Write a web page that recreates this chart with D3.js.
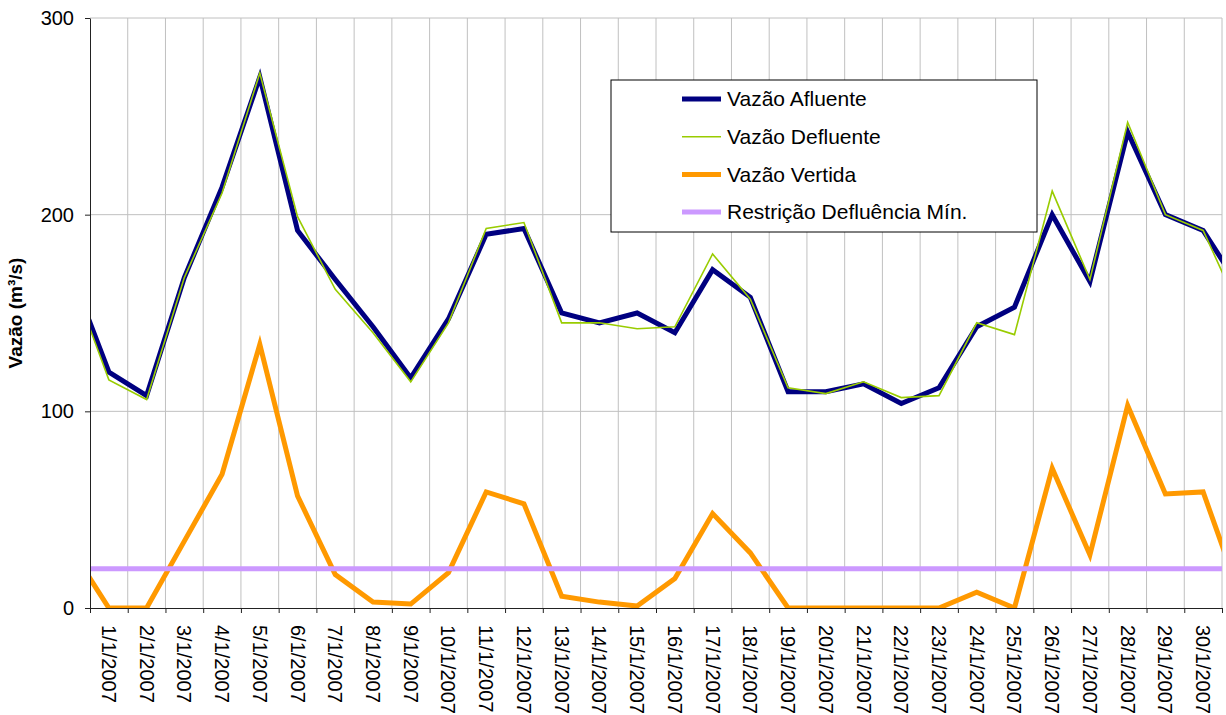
<!DOCTYPE html>
<html>
<head>
<meta charset="utf-8">
<script src="https://cdn.jsdelivr.net/npm/d3@7"></script>
<style>
  body { margin: 0; background: #fff; }
  svg { display: block; }
  text { font-family: "Liberation Sans", Arial, sans-serif; fill: #000; }
</style>
</head>
<body>
<div id="chart"></div>
<script>
// day index 0 = 31/12/2006 and 31 = 31/1/2007 sit just outside the visible axis
const days = [0, 1, 2, 3, 4, 5, 6, 7, 8, 9, 10, 11, 12, 13, 14, 15, 16, 17, 18, 19, 20, 21, 22, 23, 24, 25, 26, 27, 28, 29, 30, 31];
const dateLabels = ["1/1/2007", "2/1/2007", "3/1/2007", "4/1/2007", "5/1/2007", "6/1/2007", "7/1/2007", "8/1/2007",
  "9/1/2007", "10/1/2007", "11/1/2007", "12/1/2007", "13/1/2007", "14/1/2007", "15/1/2007", "16/1/2007",
  "17/1/2007", "18/1/2007", "19/1/2007", "20/1/2007", "21/1/2007", "22/1/2007", "23/1/2007", "24/1/2007",
  "25/1/2007", "26/1/2007", "27/1/2007", "28/1/2007", "29/1/2007", "30/1/2007"];

const vazaoAfluente  = [170, 120, 108, 168, 214, 270, 192, 167, 143, 117, 147, 190, 193, 150, 145, 150, 140, 172, 158, 110, 110, 114, 104, 112, 143, 153, 200, 166, 242, 200, 192, 162];
const vazaoDefluente = [168, 116, 106, 168, 211, 272, 199, 162, 140, 115, 145, 193, 196, 145, 145, 142, 143, 180, 157, 112, 109, 115, 107, 108, 145, 139, 212, 167, 247, 200, 192, 150];
const vazaoVertida   = [30, 0, 0, 34, 68, 134, 57, 17, 3, 2, 18, 59, 53, 6, 3, 1, 15, 48, 28, 0, 0, 0, 0, 0, 8, 0, 71, 27, 103, 58, 59, 5];
const restricaoMin   = [20, 20, 20, 20, 20, 20, 20, 20, 20, 20, 20, 20, 20, 20, 20, 20, 20, 20, 20, 20, 20, 20, 20, 20, 20, 20, 20, 20, 20, 20, 20, 20];

const yTicks = [0, 100, 200, 300];

const series = [
  { name: "Vazão Afluente", values: vazaoAfluente, color: "#000080", width: 5 },
  { name: "Vazão Defluente", values: vazaoDefluente, color: "#99CC00", width: 1.6 },
  { name: "Vazão Vertida", values: vazaoVertida, color: "#FF9900", width: 5 },
  { name: "Restrição Defluência Mín.", values: restricaoMin, color: "#CC99FF", width: 5 }
];

const width = 1226, height = 715;
const margin = { top: 18, right: 4, bottom: 107, left: 90 };
const innerW = width - margin.left - margin.right;
const innerH = height - margin.top - margin.bottom;

let svg = d3.select("#chart")
  .append("svg")
  .attr("width", width)
  .attr("height", height);

let g = svg.append("g")
  .attr("transform", `translate(${margin.left}, ${margin.top})`);

let x = d3.scaleLinear().domain([0.5, 30.5]).range([0, innerW]);
let y = d3.scaleLinear().domain([0, 300]).range([innerH, 0]);

const boundaries = d3.range(0.5, 31, 1);

svg.append("defs").append("clipPath")
  .attr("id", "plotclip")
  .append("rect")
  .attr("width", innerW)
  .attr("height", innerH);

// vertical gridlines at category boundaries
g.append("g")
  .selectAll("line")
  .data(boundaries.slice(1))
  .join("line")
  .attr("x1", d => x(d)).attr("x2", d => x(d))
  .attr("y1", 0).attr("y2", innerH)
  .attr("stroke", "#c0c0c0")
  .attr("stroke-width", 1);

// horizontal gridlines
g.append("g")
  .selectAll("line")
  .data(yTicks.slice(1))
  .join("line")
  .attr("x1", 0).attr("x2", innerW)
  .attr("y1", d => y(d)).attr("y2", d => y(d))
  .attr("stroke", "#c0c0c0")
  .attr("stroke-width", 1);

// series lines
let line = d3.line()
  .x((d, i) => x(days[i]))
  .y(d => y(d));

let lines = g.append("g").attr("clip-path", "url(#plotclip)");
series.forEach(function (s) {
  lines.append("path")
    .datum(s.values)
    .attr("fill", "none")
    .attr("stroke", s.color)
    .attr("stroke-width", s.width)
    .attr("stroke-linejoin", "miter")
    .attr("d", line);
});

// y axis
let yAxis = g.append("g")
  .call(d3.axisLeft(y).tickValues(yTicks).tickSize(5).tickPadding(11).tickSizeOuter(0));
yAxis.select(".domain").attr("stroke", "#222");
yAxis.selectAll(".tick line").attr("stroke", "#222");
yAxis.selectAll("text")
  .style("font-size", "20px")
  .attr("fill", "#000");

// x axis: tick marks at boundaries
let xAxis = g.append("g")
  .attr("transform", `translate(0, ${innerH})`)
  .call(d3.axisBottom(x).tickValues(boundaries).tickSize(5).tickFormat("").tickSizeOuter(0));
xAxis.select(".domain").attr("stroke", "#222");
xAxis.selectAll(".tick line").attr("stroke", "#222");

// x labels, rotated, centred on each day
g.append("g")
  .selectAll("text")
  .data(dateLabels)
  .join("text")
  .attr("transform", (d, i) => `translate(${x(i + 1)}, ${innerH + 17}) rotate(90)`)
  .attr("dy", "0.35em")
  .attr("text-anchor", "start")
  .style("font-size", "20px")
  .text(d => d);

// y axis title
svg.append("text")
  .attr("transform", `translate(15, ${margin.top + innerH / 2}) rotate(-90)`)
  .attr("text-anchor", "middle")
  .attr("dy", "0.35em")
  .style("font-size", "19px")
  .style("font-weight", "bold")
  .text("Vazão (m³/s)");

// legend
let legend = svg.append("g").attr("transform", "translate(611, 80)");
legend.append("rect")
  .attr("width", 426)
  .attr("height", 152)
  .attr("fill", "#fff")
  .attr("stroke", "#000")
  .attr("stroke-width", 1);

let items = legend.selectAll(".item")
  .data(series)
  .join("g")
  .attr("class", "item")
  .attr("transform", (d, i) => `translate(0, ${19 + i * 37.7})`);

items.append("line")
  .attr("x1", 71).attr("x2", 110)
  .attr("stroke", d => d.color)
  .attr("stroke-width", d => d.width);

items.append("text")
  .attr("x", 116)
  .attr("dy", "0.35em")
  .style("font-size", "21px")
  .text(d => d.name);
</script>
</body>
</html>
